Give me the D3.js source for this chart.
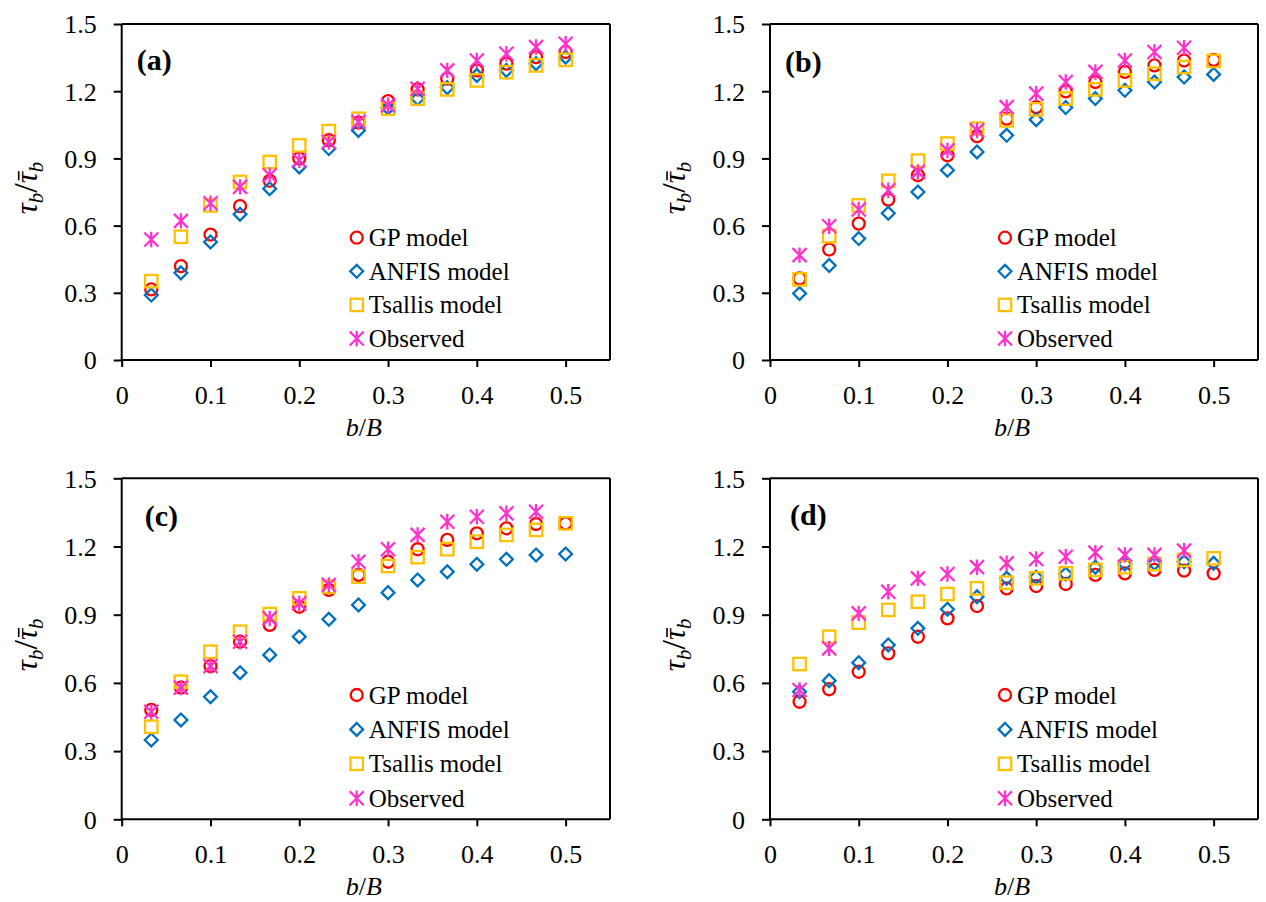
<!DOCTYPE html>
<html>
<head>
<meta charset="utf-8">
<script src="https://cdn.jsdelivr.net/npm/d3@7/dist/d3.min.js"></script>
<style>
  html, body { margin: 0; padding: 0; background: #fff; }
  svg { display: block; }
  text { font-family: "Liberation Serif", "Times New Roman", serif; fill: #000; }
</style>
</head>
<body>
<svg id="chart" width="1266" height="902"></svg>
<script>
// ---------- DATA ----------
const bB = [0.0333, 0.0667, 0.1, 0.1333, 0.1667, 0.2, 0.2333, 0.2667, 0.3, 0.3333, 0.3667, 0.4, 0.4333, 0.4667, 0.5];
const xTicks = [0, 0.1, 0.2, 0.3, 0.4, 0.5];
const yTicks = [0, 0.3, 0.6, 0.9, 1.2, 1.5];
const seriesNames = ["GP model", "ANFIS model", "Tsallis model", "Observed"];
const panelLabels = ["(a)", "(b)", "(c)", "(d)"];

// Panel (a)
const gpA      = [0.315, 0.419, 0.560, 0.687, 0.800, 0.900, 0.981, 1.060, 1.156, 1.208, 1.256, 1.293, 1.323, 1.352, 1.375];
const anfisA   = [0.290, 0.389, 0.527, 0.651, 0.765, 0.862, 0.944, 1.025, 1.125, 1.167, 1.216, 1.270, 1.293, 1.323, 1.352];
const tsallisA = [0.352, 0.550, 0.690, 0.795, 0.884, 0.958, 1.022, 1.077, 1.122, 1.167, 1.208, 1.248, 1.285, 1.315, 1.340];
const obsA     = [0.538, 0.621, 0.700, 0.773, 0.825, 0.892, 0.973, 1.063, 1.137, 1.211, 1.293, 1.337, 1.367, 1.397, 1.412];
// Panel (b)
const gpB      = [0.364, 0.493, 0.609, 0.716, 0.825, 0.914, 0.999, 1.077, 1.129, 1.199, 1.241, 1.286, 1.315, 1.337, 1.340];
const anfisB   = [0.297, 0.422, 0.542, 0.655, 0.750, 0.847, 0.929, 1.003, 1.073, 1.127, 1.167, 1.204, 1.241, 1.263, 1.275];
const tsallisB = [0.360, 0.553, 0.690, 0.800, 0.890, 0.966, 1.033, 1.070, 1.119, 1.167, 1.208, 1.248, 1.278, 1.308, 1.335];
const obsB     = [0.468, 0.597, 0.672, 0.758, 0.840, 0.936, 1.025, 1.129, 1.189, 1.241, 1.286, 1.337, 1.375, 1.394];
// Panel (c)
const gpC      = [0.481, 0.579, 0.674, 0.781, 0.855, 0.935, 1.009, 1.075, 1.133, 1.188, 1.229, 1.258, 1.280, 1.299, 1.302];
const anfisC   = [0.349, 0.437, 0.539, 0.645, 0.723, 0.803, 0.880, 0.943, 0.997, 1.053, 1.089, 1.122, 1.144, 1.163, 1.167];
const tsallisC = [0.407, 0.605, 0.737, 0.825, 0.903, 0.972, 1.023, 1.067, 1.114, 1.153, 1.188, 1.221, 1.251, 1.273, 1.302];
const obsC     = [0.473, 0.579, 0.674, 0.781, 0.884, 0.950, 1.031, 1.133, 1.188, 1.251, 1.309, 1.331, 1.346, 1.353];
// Panel (d)
const gpD      = [0.517, 0.572, 0.649, 0.730, 0.803, 0.884, 0.938, 1.016, 1.026, 1.035, 1.075, 1.082, 1.097, 1.094, 1.082];
const anfisD   = [0.561, 0.610, 0.689, 0.767, 0.840, 0.924, 0.979, 1.060, 1.065, 1.079, 1.109, 1.123, 1.126, 1.133, 1.126];
const tsallisD = [0.683, 0.803, 0.865, 0.921, 0.957, 0.991, 1.016, 1.041, 1.060, 1.082, 1.097, 1.109, 1.123, 1.141, 1.148];
const obsD     = [0.569, 0.752, 0.906, 1.001, 1.060, 1.079, 1.109, 1.126, 1.145, 1.155, 1.173, 1.163, 1.163, 1.182];

const panelData = [
  [gpA, anfisA, tsallisA, obsA],
  [gpB, anfisB, tsallisB, obsB],
  [gpC, anfisC, tsallisC, obsC],
  [gpD, anfisD, tsallisD, obsD]
];

// ---------- STYLE / LAYOUT ----------
const colors = ["#FF0000", "#0070C0", "#FFC000", "#FF33CC"];
const cols = [[121.7, 610], [770, 1258]];
const rows = [[24, 360], [478.3, 819.3]];
const labelOffsets = [[15, 46], [15, 47.5], [23, 48], [20, 47]];
const legendCfg = [
  {dx: 235, dy: 213.7, step: 33.6},
  {dx: 235, dy: 213.7, step: 33.6},
  {dx: 235, dy: 216.7, step: 34.4},
  {dx: 235, dy: 216.7, step: 34.4}
];

const svg = d3.select("#chart");

function drawMarker(g, type, color) {
  const sw = 2.3;
  if (type === 0) {
    g.append("circle").attr("r", 6).attr("fill", "none").attr("stroke", color).attr("stroke-width", sw);
  } else if (type === 1) {
    const s = 6.4;
    g.append("path").attr("d", `M0,${-s}L${s},0L0,${s}L${-s},0Z`)
      .attr("fill", "none").attr("stroke", color).attr("stroke-width", sw);
  } else if (type === 2) {
    const s = 6.2;
    g.append("rect").attr("x", -s).attr("y", -s).attr("width", 2 * s).attr("height", 2 * s)
      .attr("fill", "none").attr("stroke", color).attr("stroke-width", sw);
  } else {
    const s = 7;
    g.append("path").attr("d", `M${-s},${-s}L${s},${s}M${-s},${s}L${s},${-s}M0,${-s * 1.1}L0,${s * 1.1}`)
      .attr("fill", "none").attr("stroke", color).attr("stroke-width", sw);
  }
}

panelData.forEach((series, pi) => {
  const c = cols[pi % 2], r = rows[Math.floor(pi / 2)];
  const x = d3.scaleLinear().domain([0, 0.55]).range([c[0], c[1]]);
  const y = d3.scaleLinear().domain([0, 1.5]).range([r[1], r[0]]);
  const g = svg.append("g");

  // frame (top and right)
  g.append("line").attr("x1", c[0]).attr("x2", c[1]).attr("y1", r[0]).attr("y2", r[0])
    .attr("stroke", "#000").attr("stroke-width", 2);
  g.append("line").attr("x1", c[1]).attr("x2", c[1]).attr("y1", r[0]).attr("y2", r[1])
    .attr("stroke", "#000").attr("stroke-width", 2);

  // x axis
  const xAxis = d3.axisBottom(x).tickValues(xTicks).tickSize(7).tickPadding(0)
    .tickFormat(d => d === 0 ? "0" : d3.format(".1f")(d));
  const gx = g.append("g").attr("transform", `translate(0,${r[1]})`).call(xAxis);
  gx.select(".domain").attr("d", `M${c[0]},0H${c[1]}`).attr("stroke", "#000").attr("stroke-width", 2);
  gx.selectAll(".tick line").attr("stroke", "#000").attr("stroke-width", 2);
  gx.selectAll(".tick text").attr("y", 44).attr("dy", null)
    .attr("font-size", 26).attr("font-family", "Liberation Serif").attr("fill", "#000");

  // y axis
  const yAxis = d3.axisLeft(y).tickValues(yTicks).tickSize(8).tickPadding(0)
    .tickFormat(d => d === 0 ? "0" : d3.format(".1f")(d));
  const gy = g.append("g").attr("transform", `translate(${c[0]},0)`).call(yAxis);
  gy.select(".domain").attr("d", `M0,${r[1]}V${r[0]}`).attr("stroke", "#000").attr("stroke-width", 2);
  gy.selectAll(".tick line").attr("stroke", "#000").attr("stroke-width", 2);
  gy.selectAll(".tick text").attr("x", -25).attr("dy", "0.34em")
    .attr("font-size", 26).attr("font-family", "Liberation Serif").attr("fill", "#000");

  // markers
  series.forEach((vals, si) => {
    vals.forEach((v, i) => {
      const mg = g.append("g").attr("transform", `translate(${x(bB[i])},${y(v)})`);
      drawMarker(mg, si, colors[si]);
    });
  });

  // panel label
  g.append("text").attr("x", c[0] + labelOffsets[pi][0]).attr("y", r[0] + labelOffsets[pi][1])
    .attr("font-size", 30).attr("font-weight", "bold").text(panelLabels[pi]);

  // legend
  const lc = legendCfg[pi];
  seriesNames.forEach((name, si) => {
    const ly = r[0] + lc.dy + si * lc.step;
    const mg = g.append("g").attr("transform", `translate(${c[0] + lc.dx},${ly})`);
    drawMarker(mg, si, colors[si]);
    g.append("text").attr("x", c[0] + lc.dx + 12).attr("y", ly + 8.5)
      .attr("font-size", 25).text(name);
  });

  // x label
  const xl = g.append("text").attr("x", (c[0] + c[1]) / 2 - 2).attr("y", r[1] + 76)
    .attr("text-anchor", "middle").attr("font-size", 26);
  xl.append("tspan").attr("font-style", "italic").text("b");
  xl.append("tspan").text("/");
  xl.append("tspan").attr("font-style", "italic").text("B");

  // y label (rotated), with overbar drawn on the second tau
  const ylg = g.append("g")
    .attr("transform", `translate(${c[0] - 85},${(r[0] + r[1]) / 2 - 4}) rotate(-90)`);
  const yl = ylg.append("text").attr("text-anchor", "middle").attr("font-size", 31);
  yl.append("tspan").attr("font-style", "italic").text("\u03C4");
  yl.append("tspan").attr("font-style", "italic").attr("font-size", 21).attr("dy", 6).text("b");
  yl.append("tspan").attr("dy", -6).attr("font-size", 34).text("/");
  yl.append("tspan").attr("font-style", "italic").text("\u03C4");
  yl.append("tspan").attr("font-style", "italic").attr("font-size", 21).attr("dy", 6).text("b");
  const node = yl.node();
  const ext = node.getExtentOfChar(3);
  ylg.append("line")
    .attr("x1", ext.x + 3).attr("x2", ext.x + ext.width + 1)
    .attr("y1", -18).attr("y2", -18)
    .attr("stroke", "#000").attr("stroke-width", 1.6);
});
</script>
</body>
</html>
